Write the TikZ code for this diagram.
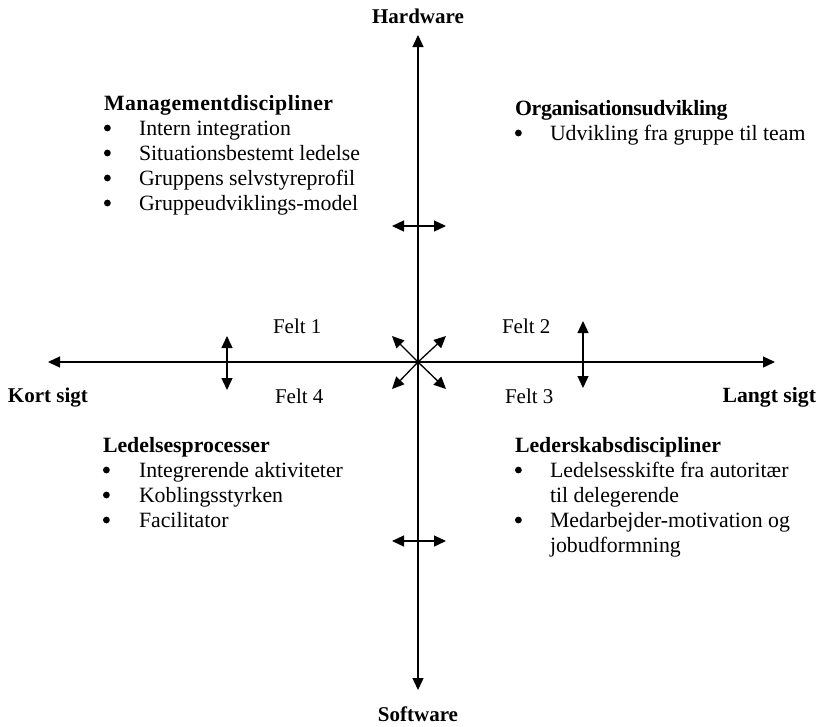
\documentclass[tikz,border=0pt]{standalone}
\usepackage{fontspec}
\setmainfont{Liberation Serif}
\usetikzlibrary{arrows.meta}
% list bullet: a small filled disc sitting at the middle of the x-height
\newcommand\blt{\tikz[baseline=0pt]\fill (4.5pt,7pt) circle[radius=3.4pt];}
\begin{document}
\begin{tikzpicture}[x=1pt,y=-1pt,
  axis/.style={line width=1.3pt,{Triangle[length=12pt,width=11pt]}-{Triangle[length=12pt,width=11pt]}},
  out1/.style={line width=1.3pt,-{Triangle[length=12pt,width=11pt]}},
  txt/.style={inner sep=0pt,outer sep=0pt,font=\fontsize{21}{25}\selectfont},
  body/.style={inner sep=0pt,outer sep=0pt,font=\fontsize{21.8}{25}\selectfont},
  head/.style={txt,font=\fontsize{21}{25}\selectfont\bfseries},
  block/.style={body,anchor=base west,align=left}]
\useasboundingbox (0,0) rectangle (818,726);

% main axes
\coordinate (C) at (418,362);
\coordinate (T) at (418,35);
\coordinate (B) at (418,690);
\coordinate (L) at (48,362);
\coordinate (R) at (775,362);
\draw[axis] (T) -- (B);
\draw[axis] (L) -- (R);

% axis labels
\node[head,anchor=base] (hw) at (418,23) {Hardware};
\node[head,anchor=base] (sw) at (418,721) {Software};
\node[head,anchor=base west] (ks) at (8,402) {Kort sigt};
\node[head,font=\fontsize{21.7}{25}\selectfont\bfseries,anchor=base east] (ls) at (816,402) {Langt sigt};

% arrows out of the centre
\coordinate (d1) at (392,336);
\coordinate (d2) at (446,336);
\coordinate (d3) at (446,389);
\coordinate (d4) at (392,389);
\foreach \d in {d1,d2,d3,d4} \draw[out1] (C) -- (\d);

% small double arrows
\coordinate (ha) at (392,226); \coordinate (hb) at (446,226);
\coordinate (sa) at (392,541); \coordinate (sb) at (446,541);
\coordinate (ka) at (227,336); \coordinate (kb) at (227,390);
\coordinate (la) at (583,321); \coordinate (lb) at (583,388);
\draw[axis] (ha) -- (hb);
\draw[axis] (sa) -- (sb);
\draw[axis] (ka) -- (kb);
\draw[axis] (la) -- (lb);

% field labels
\node[txt,anchor=base west] (f1) at (273,333) {Felt 1};
\node[txt,anchor=base west] (f2) at (502,333) {Felt 2};
\node[txt,anchor=base west] (f4) at (275,403) {Felt 4};
\node[txt,anchor=base west] (f3) at (505,403) {Felt 3};

% quadrant contents
\node[block] (q1) at (104,110) {\begin{tabular}[t]{@{}p{35pt}@{}l@{}}
  \multicolumn{2}{@{}l@{}}{\bfseries\addfontfeatures{LetterSpace=2}Managementdiscipliner}\\
  \blt & Intern integration\\
  \blt & Situationsbestemt ledelse\\
  \blt & Gruppens selvstyreprofil\\
  \blt & Gruppeudviklings-model
\end{tabular}};

\node[block] (q2) at (515,115) {\begin{tabular}[t]{@{}p{35pt}@{}l@{}}
  \multicolumn{2}{@{}l@{}}{\bfseries\addfontfeatures{LetterSpace=-1.5}Organisationsudvikling}\\
  \blt & Udvikling fra gruppe til team
\end{tabular}};

\node[block] (q4) at (103,452) {\begin{tabular}[t]{@{}p{36pt}@{}l@{}}
  \multicolumn{2}{@{}l@{}}{\bfseries Ledelsesprocesser}\\
  \blt & Integrerende aktiviteter\\
  \blt & Koblingsstyrken\\
  \blt & Facilitator
\end{tabular}};

\node[block] (q3) at (515,452) {\begin{tabular}[t]{@{}p{35pt}@{}l@{}}
  \multicolumn{2}{@{}l@{}}{\bfseries Lederskabsdiscipliner}\\
  \blt & Ledelsesskifte fra autoritær\\
   & til delegerende\\
  \blt & Medarbejder-motivation og\\
   & jobudformning
\end{tabular}};
\end{tikzpicture}
\end{document}
